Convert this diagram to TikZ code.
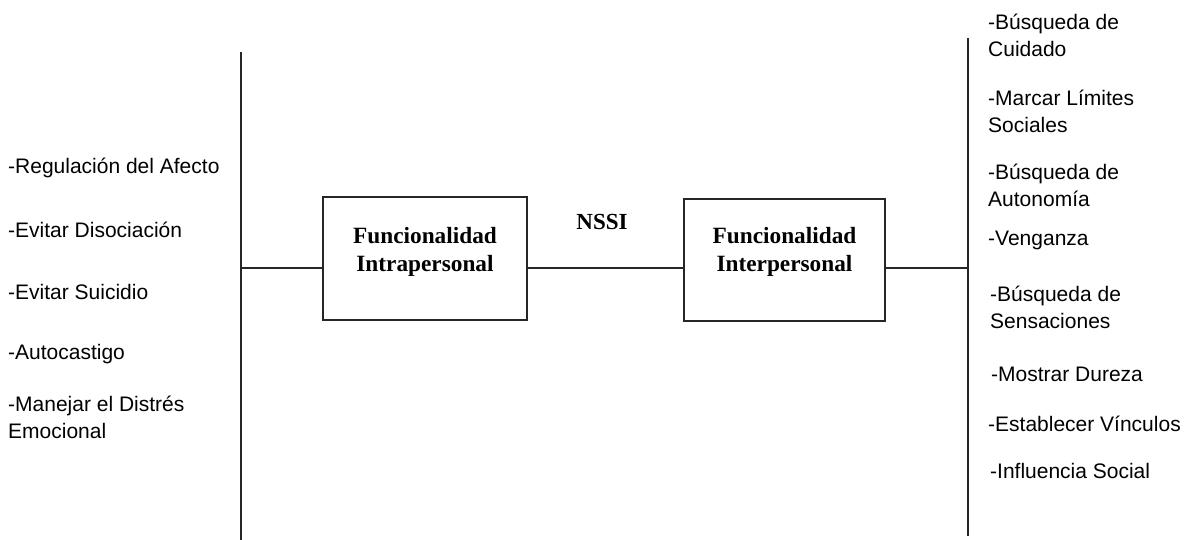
\documentclass[tikz,border=0pt]{standalone}
\usepackage{fontspec}
\setmainfont{Liberation Serif}
\setsansfont{Liberation Sans}
\tikzset{
  fn box/.style={
    draw=black!85,
    line width=1.2pt,
    align=center,
    font=\fontsize{23.3}{28}\selectfont\bfseries,
    inner sep=0pt
  },
  fn title/.style={font=\fontsize{23}{28}\selectfont\bfseries, inner sep=0pt},
  fn item/.style={anchor=west, align=left, inner sep=0pt, font=\sffamily\fontsize{21}{27}\selectfont},
  fn line/.style={draw=black!85, line width=1.2pt}
}

\begin{document}
\begin{tikzpicture}[x=1pt, y=-1pt]
\useasboundingbox (0,0) rectangle (1187,540);
% central boxes
\node[fn box, minimum width=204pt, minimum height=123pt, text depth=19pt] (intra) at (425,258.5) {Funcionalidad\\Intrapersonal};
\node[fn box, minimum width=201pt, minimum height=122pt, text depth=22pt] (inter) at (784.5,260) {Funcionalidad\\Interpersonal};
\node[fn title] (nssi) at (602,222) {NSSI};
% bars
\coordinate (lbartop) at (241,52);
\coordinate (lbarbot) at (241,540);
\coordinate (lmid) at (241,268);
\coordinate (rbartop) at (968,38);
\coordinate (rbarbot) at (968,536);
\coordinate (rmid) at (968,268);
\draw[fn line] (lbartop) -- (lbarbot);
\draw[fn line] (rbartop) -- (rbarbot);
\draw[fn line] (lmid) -- (lmid -| intra.west);
\draw[fn line] (intra.east |- lmid) -- (inter.west |- lmid);
\draw[fn line] (inter.east |- rmid) -- (rmid);
% intrapersonal functions
\node[fn item] (regul) at (8,168) {-Regulación del Afecto};
\node[fn item] (disoc) at (8,230) {-Evitar Disociación};
\node[fn item] (suic) at (8,292) {-Evitar Suicidio};
\node[fn item] (castigo) at (8,354) {-Autocastigo};
\node[fn item] (distres) at (8,417) {-Manejar el Distrés\\Emocional};
% interpersonal functions
\node[fn item] (cuidado) at (988,35) {-Búsqueda de\\Cuidado};
\node[fn item] (limites) at (988,111) {-Marcar Límites\\Sociales};
\node[fn item] (autonom) at (988,185) {-Búsqueda de\\Autonomía};
\node[fn item] (venganza) at (988,240) {-Venganza};
\node[fn item] (sensac) at (990,307) {-Búsqueda de\\Sensaciones};
\node[fn item] (dureza) at (991,374) {-Mostrar Dureza};
\node[fn item] (vinculos) at (988,424) {-Establecer Vínculos};
\node[fn item] (influen) at (990,471) {-Influencia Social};
\end{tikzpicture}
\end{document}
